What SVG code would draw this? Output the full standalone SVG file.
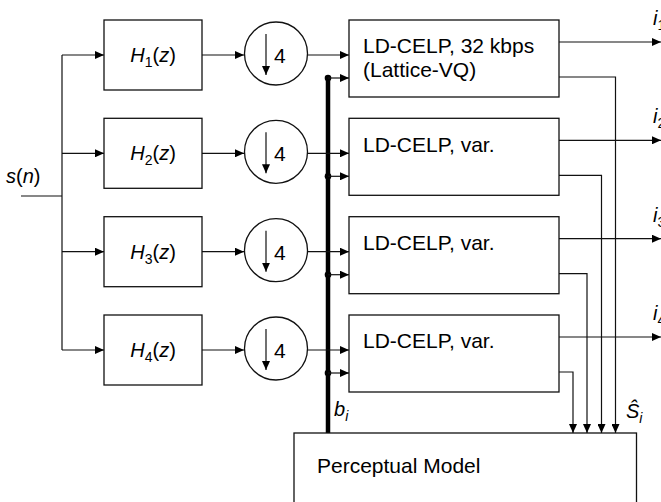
<svg xmlns="http://www.w3.org/2000/svg" width="661" height="502" viewBox="0 0 661 502">
<defs>
<marker id="ah" markerUnits="userSpaceOnUse" markerWidth="10" markerHeight="8" refX="9" refY="4" orient="auto"><path d="M0,0 L9,4 L0,8 Z" fill="#000"/></marker>
</defs>
<style>
.box{fill:#fff;stroke:#111;stroke-width:1.3}
.ln{fill:none;stroke:#111;stroke-width:1.2}
.ar{fill:none;stroke:#111;stroke-width:1.2;marker-end:url(#ah)}
.t{font-family:"Liberation Sans",Arial,sans-serif;font-size:21px;fill:#000}
.m{font-family:"Liberation Sans",Arial,sans-serif;font-size:20px;font-style:italic;fill:#000}
.sub{font-size:14px}
</style>
<rect width="661" height="502" fill="#fff"/>
<g id="connectors">
<path class="ln" d="M21,196 H62 M62,55 V350"/>
<path class="ar" d="M62,55 H104"/>
<path class="ar" d="M62,153.3 H104"/>
<path class="ar" d="M62,251.7 H104"/>
<path class="ar" d="M62,350 H104"/>
<path class="ar" d="M202,55 H244"/>
<path class="ar" d="M202,153.3 H244"/>
<path class="ar" d="M202,251.7 H244"/>
<path class="ar" d="M202,350 H244"/>
<path d="M328,78 V433" stroke="#000" stroke-width="4.5" fill="none"/>
<path class="ar" d="M307.5,55 H349"/>
<path class="ar" d="M307.5,153.3 H349"/>
<path class="ar" d="M307.5,251.7 H349"/>
<path class="ar" d="M307.5,350 H349"/>
<g fill="#000">
<circle cx="328" cy="78" r="3.3"/>
<circle cx="328" cy="176.3" r="3.3"/>
<circle cx="328" cy="274.7" r="3.3"/>
<circle cx="328" cy="373" r="3.3"/>
</g>
<path class="ar" d="M328,78 H349"/>
<path class="ar" d="M328,176.3 H349"/>
<path class="ar" d="M328,274.7 H349"/>
<path class="ar" d="M328,373 H349"/>
<path class="ar" d="M559,42 H661"/>
<path class="ar" d="M559,140.3 H661"/>
<path class="ar" d="M559,238.7 H661"/>
<path class="ar" d="M559,337 H661"/>
<path class="ar" d="M559,77 H615.5 V433"/>
<path class="ar" d="M559,175.3 H601.5 V433"/>
<path class="ar" d="M559,273.7 H587 V433"/>
<path class="ar" d="M559,372 H573 V433"/>
</g>
<g id="H1"><rect class="box" x="104" y="20" width="98" height="70"/><text class="m" x="153" y="62" text-anchor="middle">H<tspan class="sub" font-style="normal" dy="5">1</tspan><tspan dy="-5" font-style="normal">(</tspan>z<tspan font-style="normal">)</tspan></text></g>
<g id="H2"><rect class="box" x="104" y="118.3" width="98" height="70"/><text class="m" x="153" y="160.3" text-anchor="middle">H<tspan class="sub" font-style="normal" dy="5">2</tspan><tspan dy="-5" font-style="normal">(</tspan>z<tspan font-style="normal">)</tspan></text></g>
<g id="H3"><rect class="box" x="104" y="216.7" width="98" height="70"/><text class="m" x="153" y="258.7" text-anchor="middle">H<tspan class="sub" font-style="normal" dy="5">3</tspan><tspan dy="-5" font-style="normal">(</tspan>z<tspan font-style="normal">)</tspan></text></g>
<g id="H4"><rect class="box" x="104" y="315" width="98" height="70"/><text class="m" x="153" y="357" text-anchor="middle">H<tspan class="sub" font-style="normal" dy="5">4</tspan><tspan dy="-5" font-style="normal">(</tspan>z<tspan font-style="normal">)</tspan></text></g>
<g id="D1"><circle class="box" cx="276" cy="53.5" r="31.5"/><path class="ar" d="M266,34 V75"/><text class="t" x="274" y="63">4</text></g>
<g id="D2"><circle class="box" cx="276" cy="151.8" r="31.5"/><path class="ar" d="M266,132.3 V173.3"/><text class="t" x="274" y="161.3">4</text></g>
<g id="D3"><circle class="box" cx="276" cy="250.2" r="31.5"/><path class="ar" d="M266,230.7 V271.7"/><text class="t" x="274" y="259.7">4</text></g>
<g id="D4"><circle class="box" cx="276" cy="348.5" r="31.5"/><path class="ar" d="M266,329 V370"/><text class="t" x="274" y="358">4</text></g>
<g id="C1"><rect class="box" x="349" y="20" width="210" height="77"/><text class="t" x="363" y="53">LD-CELP, 32 kbps</text><text class="t" x="363" y="77">(Lattice-VQ)</text></g>
<g id="C2"><rect class="box" x="349" y="118.3" width="210" height="77"/><text class="t" x="363" y="151.5">LD-CELP, var.</text></g>
<g id="C3"><rect class="box" x="349" y="216.7" width="210" height="77"/><text class="t" x="363" y="249.5">LD-CELP, var.</text></g>
<g id="C4"><rect class="box" x="349" y="315" width="210" height="77"/><text class="t" x="363" y="347.5">LD-CELP, var.</text></g>
<g id="PM"><rect class="box" x="294" y="433" width="342.5" height="80"/><text class="t" x="317" y="473">Perceptual Model</text></g>
<g id="labels">
<text class="m" x="6" y="183">s<tspan font-style="normal">(</tspan>n<tspan font-style="normal">)</tspan></text>
<text class="m" x="653" y="25">i<tspan class="sub" font-style="normal" dy="5">1</tspan></text>
<text class="m" x="653" y="123.3">i<tspan class="sub" font-style="normal" dy="5">2</tspan></text>
<text class="m" x="653" y="221.7">i<tspan class="sub" font-style="normal" dy="5">3</tspan></text>
<text class="m" x="653" y="320">i<tspan class="sub" font-style="normal" dy="5">4</tspan></text>
<text class="m" x="334" y="416">b<tspan class="sub" dy="5">i</tspan></text>
<text class="m" x="626" y="418">Ŝ<tspan class="sub" dy="5">i</tspan></text>
</g>
</svg>
